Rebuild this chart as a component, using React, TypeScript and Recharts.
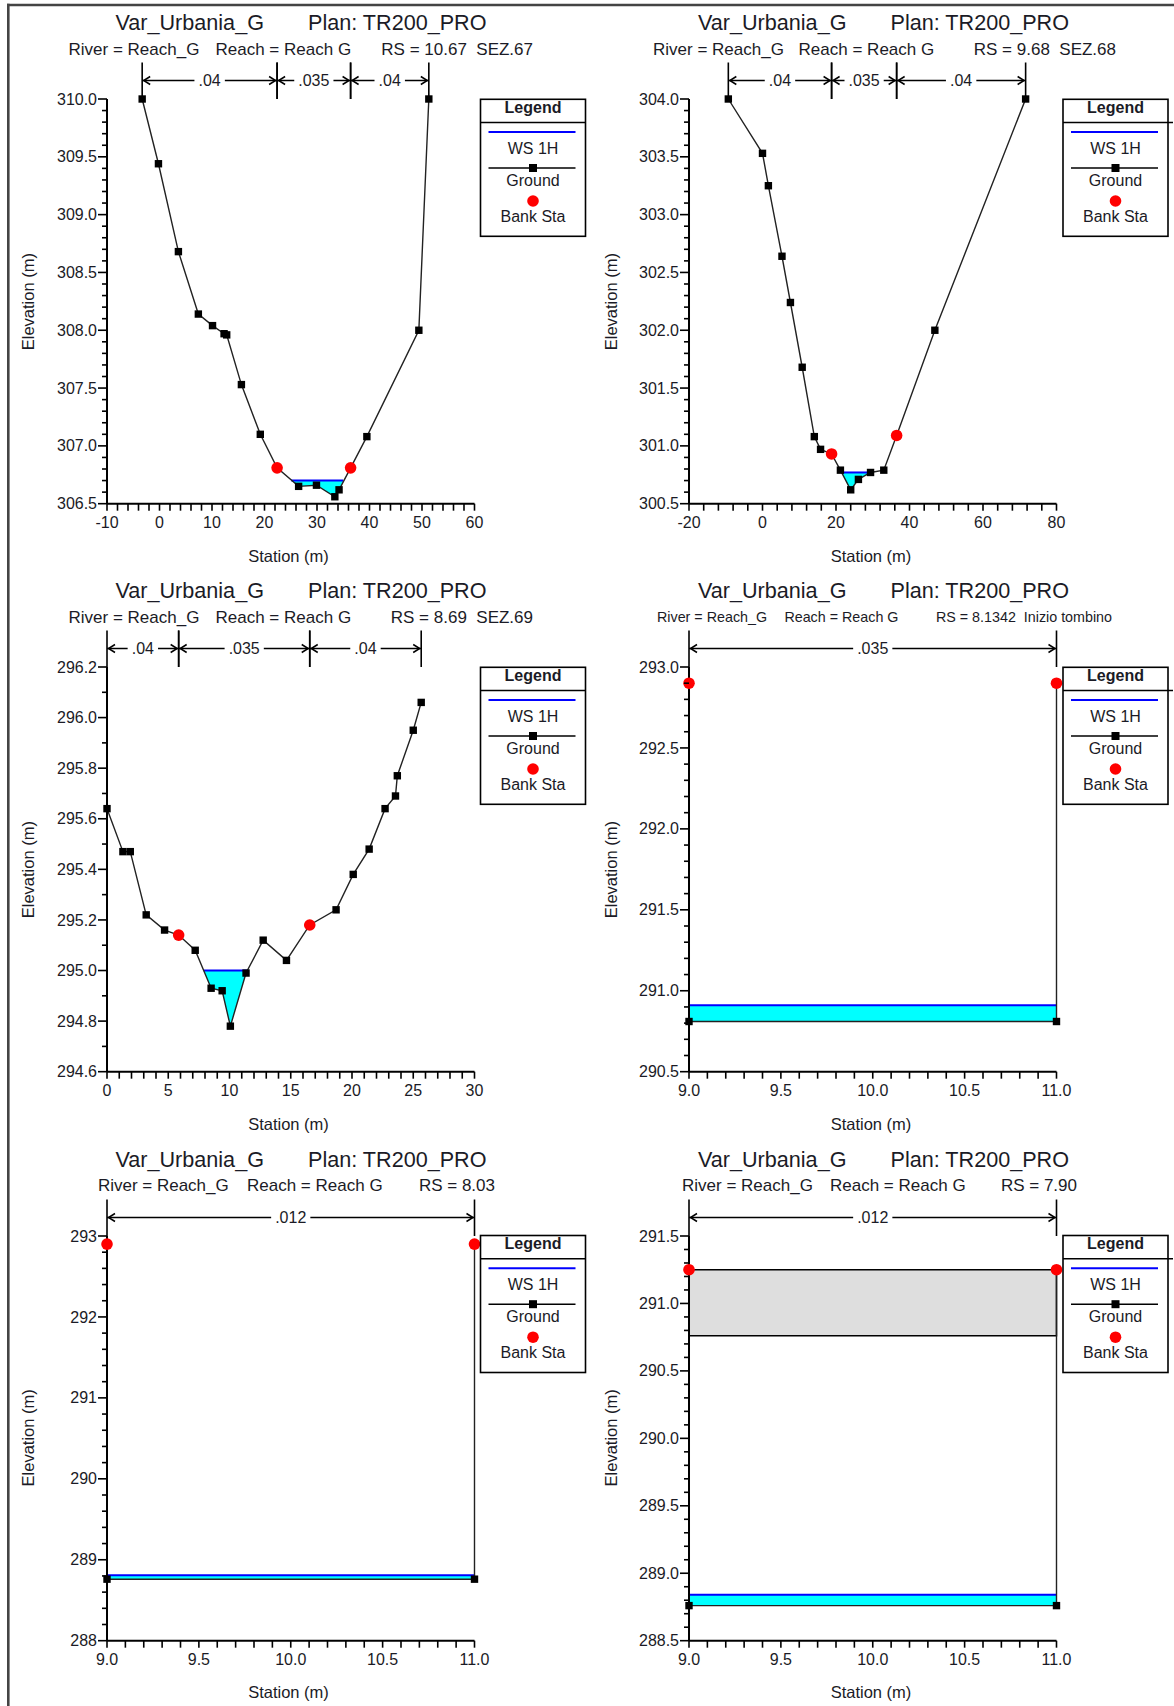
import React from 'react'
import { ComposedChart, Line, Area, XAxis, YAxis, ReferenceLine, ReferenceArea } from 'recharts'

const FONT = '"Liberation Sans", Arial, sans-serif'
const INK = '#1b1b26'

// ---- RS 10.67 SEZ.67 ----
const sez67Sta = [-3.3, -0.2, 3.6, 7.4, 10.1, 12.3, 12.8, 15.6, 19.2, 22.4, 26.5, 29.9, 33.4, 34.2, 36.4, 39.5, 49.4, 51.3]
const sez67Elev = [310.0, 309.44, 308.68, 308.14, 308.04, 307.97, 307.96, 307.53, 307.1, 306.81, 306.65, 306.66, 306.56, 306.62, 306.81, 307.08, 308.0, 310.0]
const sez67BankSta = [22.4, 36.4]
const sez67BankElev = [306.81, 306.81]
const sez67Ws = 306.7
const sez67WaterSta = [25.1, 26.5, 29.9, 33.4, 34.2, 35.0]
const sez67WaterBed = [306.7, 306.65, 306.66, 306.56, 306.62, 306.7]
const sez67NSta = [-3.3, 22.4, 36.4, 51.3]
const sez67NVal = ['.04', '.035', '.04']

// ---- RS 9.68 SEZ.68 ----
const sez68Sta = [-9.3, 0.0, 1.6, 5.3, 7.6, 10.8, 14.1, 15.8, 18.8, 21.2, 24.0, 26.1, 29.4, 33.0, 36.5, 46.9, 71.6]
const sez68Elev = [304.0, 303.53, 303.25, 302.64, 302.24, 301.68, 301.08, 300.97, 300.93, 300.79, 300.62, 300.71, 300.77, 300.79, 301.09, 302.0, 304.0]
const sez68BankSta = [18.8, 36.5]
const sez68BankElev = [300.93, 301.09]
const sez68Ws = 300.77
const sez68WaterSta = [21.5, 24.0, 26.1, 29.4]
const sez68WaterBed = [300.77, 300.62, 300.71, 300.77]
const sez68NSta = [-9.3, 18.8, 36.5, 71.6]
const sez68NVal = ['.04', '.035', '.04']

// ---- RS 8.69 SEZ.69 ----
const sez69Sta = [0, 1.3, 1.9, 3.2, 4.7, 5.85, 7.2, 8.5, 9.4, 10.07, 11.35, 12.75, 14.65, 16.55, 18.7, 20.1, 21.4, 22.7, 23.55, 23.7, 25.0, 25.65]
const sez69Elev = [295.64, 295.47, 295.47, 295.22, 295.16, 295.14, 295.08, 294.93, 294.92, 294.78, 294.99, 295.12, 295.04, 295.18, 295.24, 295.38, 295.48, 295.64, 295.69, 295.77, 295.95, 296.06]
const sez69BankSta = [5.85, 16.55]
const sez69BankElev = [295.14, 295.18]
const sez69Ws = 295.0
const sez69WaterSta = [7.9, 8.5, 9.4, 10.07, 11.35, 11.45]
const sez69WaterBed = [295.0, 294.93, 294.92, 294.78, 294.99, 295.0]
const sez69NSta = [0, 5.85, 16.55, 25.65]
const sez69NVal = ['.04', '.035', '.04']

// ---- RS 8.1342 Inizio tombino ----
const rs8134Sta = [9, 9, 11, 11]
const rs8134Elev = [292.9, 290.81, 290.81, 292.9]
const rs8134BankSta = [9, 11]
const rs8134BankElev = [292.9, 292.9]
const rs8134Ws = 290.91
const rs8134WaterSta = [9, 11]
const rs8134WaterBed = [290.81, 290.81]
const rs8134NSta = [9, 11]
const rs8134NVal = ['.035']

// ---- RS 8.03 ----
const rs803Sta = [9, 9, 11, 11]
const rs803Elev = [292.9, 288.76, 288.76, 292.9]
const rs803BankSta = [9, 11]
const rs803BankElev = [292.9, 292.9]
const rs803Ws = 288.81
const rs803WaterSta = [9, 11]
const rs803WaterBed = [288.76, 288.76]
const rs803NSta = [9, 11]
const rs803NVal = ['.012']

// ---- RS 7.90 ----
const rs790Sta = [9, 9, 11, 11]
const rs790Elev = [291.25, 288.76, 288.76, 291.25]
const rs790BankSta = [9, 11]
const rs790BankElev = [291.25, 291.25]
const rs790Ws = 288.84
const rs790WaterSta = [9, 11]
const rs790WaterBed = [288.76, 288.76]
const rs790Deck = [290.76, 291.25]
const rs790NSta = [9, 11]
const rs790NVal = ['.012']

// tick labels
const xMajor67 = [-10, 0, 10, 20, 30, 40, 50, 60]
const yMajor67 = [306.5, 307.0, 307.5, 308.0, 308.5, 309.0, 309.5, 310.0]
const xMajor68 = [-20, 0, 20, 40, 60, 80]
const yMajor68 = [300.5, 301.0, 301.5, 302.0, 302.5, 303.0, 303.5, 304.0]
const xMajor69 = [0, 5, 10, 15, 20, 25, 30]
const yMajor69 = [294.6, 294.8, 295.0, 295.2, 295.4, 295.6, 295.8, 296.0, 296.2]
const xMajorCulvert = [9.0, 9.5, 10.0, 10.5, 11.0]
const yMajor8134 = [290.5, 291.0, 291.5, 292.0, 292.5, 293.0]
const yMajor803 = [288, 289, 290, 291, 292, 293]
const yMajor790 = [288.5, 289.0, 289.5, 290.0, 290.5, 291.0, 291.5]

// layout
const COL_X = [106.5, 689]
const ROW_Y = [99.3, 667.3, 1235.5]
const PW = 367.5
const PH = 404.7
const Y_W = 60
const X_H = 30
const M = { top: 100, right: 110, bottom: 40, left: 40 }
const CW = M.left + Y_W + PW + M.right
const CH = M.top + PH + X_H + M.bottom

const steps = (lo: number, hi: number, step: number) => {
  const n = Math.round((hi - lo) / step)
  return Array.from({ length: n + 1 }, (_, i) => +(lo + i * step).toFixed(4))
}
const isMajor = (majors: number[], v: number) => majors.some((m) => Math.abs(m - v) < 1e-6)

const sections = [
  { col: 0, row: 0, rs: 'RS = 10.67  SEZ.67', sub: [17, -38, 109, 426.5],
    sta: sez67Sta, elev: sez67Elev, bankSta: sez67BankSta, bankElev: sez67BankElev, ws: sez67Ws,
    waterSta: sez67WaterSta, waterBed: sez67WaterBed, nSta: sez67NSta, nVal: sez67NVal,
    xDom: [-10, 60], xMajor: xMajor67, xMinor: 2, xDig: 0, yDom: [306.5, 310], yMajor: yMajor67, yMinor: 0.1, yDig: 1 },
  { col: 1, row: 0, rs: 'RS = 9.68  SEZ.68', sub: [17, -36, 109.6, 427],
    sta: sez68Sta, elev: sez68Elev, bankSta: sez68BankSta, bankElev: sez68BankElev, ws: sez68Ws,
    waterSta: sez68WaterSta, waterBed: sez68WaterBed, nSta: sez68NSta, nVal: sez68NVal,
    xDom: [-20, 80], xMajor: xMajor68, xMinor: 4, xDig: 0, yDom: [300.5, 304], yMajor: yMajor68, yMinor: 0.1, yDig: 1 },
  { col: 0, row: 1, rs: 'RS = 8.69  SEZ.69', sub: [17, -38, 109, 426.5],
    sta: sez69Sta, elev: sez69Elev, bankSta: sez69BankSta, bankElev: sez69BankElev, ws: sez69Ws,
    waterSta: sez69WaterSta, waterBed: sez69WaterBed, nSta: sez69NSta, nVal: sez69NVal,
    xDom: [0, 30], xMajor: xMajor69, xMinor: 1, xDig: 0, yDom: [294.6, 296.2], yMajor: yMajor69, yMinor: 0.1, yDig: 1 },
  { col: 1, row: 1, rs: 'RS = 8.1342  Inizio tombino', sub: [14.3, -32, 95.4, 423],
    sta: rs8134Sta, elev: rs8134Elev, bankSta: rs8134BankSta, bankElev: rs8134BankElev, ws: rs8134Ws,
    waterSta: rs8134WaterSta, waterBed: rs8134WaterBed, nSta: rs8134NSta, nVal: rs8134NVal,
    xDom: [9, 11], xMajor: xMajorCulvert, xMinor: 0.1, xDig: 1, yDom: [290.5, 293], yMajor: yMajor8134, yMinor: 0.1, yDig: 1 },
  { col: 0, row: 2, rs: 'RS = 8.03', sub: [17, -8.6, 140.5, 388.5],
    sta: rs803Sta, elev: rs803Elev, bankSta: rs803BankSta, bankElev: rs803BankElev, ws: rs803Ws,
    waterSta: rs803WaterSta, waterBed: rs803WaterBed, nSta: rs803NSta, nVal: rs803NVal,
    xDom: [9, 11], xMajor: xMajorCulvert, xMinor: 0.1, xDig: 1, yDom: [288, 293], yMajor: yMajor803, yMinor: 0.2, yDig: 0 },
  { col: 1, row: 2, rs: 'RS = 7.90', sub: [17, -7, 141, 388],
    sta: rs790Sta, elev: rs790Elev, bankSta: rs790BankSta, bankElev: rs790BankElev, ws: rs790Ws,
    waterSta: rs790WaterSta, waterBed: rs790WaterBed, nSta: rs790NSta, nVal: rs790NVal, deck: rs790Deck,
    xDom: [9, 11], xMajor: xMajorCulvert, xMinor: 0.1, xDig: 1, yDom: [288.5, 291.5], yMajor: yMajor790, yMinor: 0.1, yDig: 1 },
]

const makeXTick = (majors: number[], digits: number) => (props: any) => {
  const { x, y, payload, index } = props
  const v = payload.value
  const major = isMajor(majors, v)
  return (
    <g key={`xt${index}`}>
      <line x1={x} x2={x} y1={y} y2={y + 7} stroke="#000" strokeWidth={1.6} />
      {major && (
        <text x={x} y={y + 19} dy="0.35em" textAnchor="middle" fontFamily={FONT} fontSize={16} fill={INK}>
          {v.toFixed(digits)}
        </text>
      )}
    </g>
  )
}

const makeYTick = (majors: number[], digits: number) => (props: any) => {
  const { x, y, payload, index } = props
  const v = payload.value
  const major = isMajor(majors, v)
  return (
    <g key={`yt${index}`}>
      <line x1={x - (major ? 9 : 5)} x2={x} y1={y} y2={y} stroke="#000" strokeWidth={1.6} />
      {major && (
        <text x={x - 10} y={y} dy="0.35em" textAnchor="end" fontFamily={FONT} fontSize={16} fill={INK}>
          {v.toFixed(digits)}
        </text>
      )}
    </g>
  )
}

// manning's n bracket drawn above the plot between two stations
const Bracket = ({ x1, y1, x2, text }: any) => {
  const yA = y1 - 18.5
  const yTop = y1 - 36.5
  const mid = (x1 + x2) / 2
  const tw = text.length * 8.8 + 4
  return (
    <g>
      <line x1={x1} x2={x1} y1={yTop} y2={y1} stroke="#000" strokeWidth={1.6} />
      <line x1={x2} x2={x2} y1={yTop} y2={y1} stroke="#000" strokeWidth={1.6} />
      <line x1={x1} x2={x2} y1={yA} y2={yA} stroke="#000" strokeWidth={1.4} />
      <polyline points={`${x1 + 8},${yA - 4} ${x1 + 1.5},${yA} ${x1 + 8},${yA + 4}`} fill="none" stroke="#000" strokeWidth={1.5} />
      <polyline points={`${x2 - 8},${yA - 4} ${x2 - 1.5},${yA} ${x2 - 8},${yA + 4}`} fill="none" stroke="#000" strokeWidth={1.5} />
      <rect x={mid - tw / 2} y={yA - 8} width={tw} height={16} fill="#fff" />
      <text x={mid} y={yA} dy="0.35em" textAnchor="middle" fontFamily={FONT} fontSize={16} fill={INK}>
        {text}
      </text>
    </g>
  )
}

const renderSquare = (p: any) => (
  <rect key={`sq${p.index}`} x={p.cx - 3.7} y={p.cy - 3.7} width={7.4} height={7.4} fill="#000" />
)
const renderBank = (p: any) => <circle key={`bk${p.index}`} cx={p.cx} cy={p.cy} r={5.8} fill="#ff0000" />

const SectionChart = ({ s }: { s: any }) => {
  const PL = COL_X[s.col]
  const PT = ROW_Y[s.row]
  const ground = s.sta.map((x: number, i: number) => ({ x, y: s.elev[i] }))
  const banks = s.bankSta.map((x: number, i: number) => ({ x, y: s.bankElev[i] }))
  const water = s.waterSta.map((x: number, i: number) => ({ x, r: [s.waterBed[i], s.ws] }))
  const wsLine = [
    { x: s.waterSta[0], y: s.ws },
    { x: s.waterSta[s.waterSta.length - 1], y: s.ws },
  ]
  return (
    <div style={{ position: 'absolute', left: PL - M.left - Y_W, top: PT - M.top }}>
      <ComposedChart width={CW} height={CH} margin={M}>
        <XAxis
          type="number"
          dataKey="x"
          domain={s.xDom}
          ticks={steps(s.xDom[0], s.xDom[1], s.xMinor)}
          interval={0}
          height={X_H}
          tickSize={0}
          tickMargin={0}
          tickLine={false}
          axisLine={{ stroke: '#000', strokeWidth: 2 }}
          tick={makeXTick(s.xMajor, s.xDig)}
        />
        <YAxis
          type="number"
          domain={s.yDom}
          ticks={steps(s.yDom[0], s.yDom[1], s.yMinor)}
          interval={0}
          width={Y_W}
          tickSize={0}
          tickMargin={0}
          tickLine={false}
          axisLine={{ stroke: '#000', strokeWidth: 2 }}
          tick={makeYTick(s.yMajor, s.yDig)}
        />
        {s.deck && (
          <ReferenceArea
            x1={s.xDom[0]}
            x2={s.xDom[1]}
            y1={s.deck[0]}
            y2={s.deck[1]}
            fill="#dedede"
            fillOpacity={1}
            stroke="#000"
            strokeWidth={1.5}
            ifOverflow="visible"
          />
        )}
        <Area data={water} dataKey="r" type="linear" stroke="none" fill="#00ffff" fillOpacity={1} dot={false} activeDot={false} isAnimationActive={false} />
        <Line data={wsLine} dataKey="y" type="linear" stroke="#0000ff" strokeWidth={2} dot={false} activeDot={false} isAnimationActive={false} />
        <Line data={ground} dataKey="y" type="linear" stroke="#222" strokeWidth={1.4} dot={renderSquare} activeDot={false} isAnimationActive={false} />
        <Line data={banks} dataKey="y" type="linear" stroke="none" dot={renderBank} activeDot={false} isAnimationActive={false} />
        {s.nVal.map((v: string, i: number) => (
          <ReferenceLine
            key={`n${i}`}
            segment={[
              { x: s.nSta[i], y: s.yDom[1] },
              { x: s.nSta[i + 1], y: s.yDom[1] },
            ]}
            ifOverflow="visible"
            shape={(p: any) => <Bracket {...p} text={v} />}
          />
        ))}
      </ComposedChart>
    </div>
  )
}

const Legend = ({ x, y, wide }: { x: number; y: number; wide: boolean }) => {
  const w = 105
  const cx = x + w / 2
  const txt = { fontFamily: FONT, fontSize: 16, fill: INK, textAnchor: 'middle' as const }
  return (
    <g>
      <rect x={x} y={y} width={w} height={137} fill="#fff" stroke="#000" strokeWidth={1.6} />
      <text x={cx} y={y + 13.5} {...txt} fontWeight="bold">Legend</text>
      <line x1={x} x2={x + w + (wide ? 5 : 0)} y1={y + 23.3} y2={y + 23.3} stroke="#000" strokeWidth={1.5} />
      <line x1={x + 8} x2={x + w - 10} y1={y + 32.7} y2={y + 32.7} stroke="#0000ff" strokeWidth={2} />
      <text x={cx} y={y + 54.5} {...txt}>WS 1H</text>
      <line x1={x + 8} x2={x + w - 10} y1={y + 68.7} y2={y + 68.7} stroke="#000" strokeWidth={1.5} />
      <rect x={cx - 4} y={y + 64.7} width={8} height={8} fill="#000" />
      <text x={cx} y={y + 86.5} {...txt}>Ground</text>
      <circle cx={cx} cy={y + 101.7} r={5.8} fill="#ff0000" />
      <text x={cx} y={y + 122.5} {...txt}>Bank Sta</text>
    </g>
  )
}

export default function App() {
  return (
    <div style={{ position: 'relative', width: 1174, height: 1706, overflow: 'hidden', background: '#fff' }}>
      <style>{'html,body{margin:0;padding:0;background:#fff;overflow:hidden;}'}</style>
      {sections.map((s, i) => (
        <SectionChart key={i} s={s} />
      ))}
      <svg width={1174} height={1706} style={{ position: 'absolute', left: 0, top: 0, pointerEvents: 'none' }}>
        <line x1={8.3} x2={8.3} y1={3.8} y2={1706} stroke="#444" strokeWidth={2.6} />
        <line x1={7} x2={1174} y1={5} y2={5} stroke="#444" strokeWidth={2.6} />
        {sections.map((s, i) => {
          const PL = COL_X[s.col]
          const PT = ROW_Y[s.row]
          const [subSize, rivX, reachX, rsX] = s.sub
          const t = { fontFamily: FONT, fill: INK }
          return (
            <g key={`ov${i}`}>
              <text x={PL + 9} y={PT - 76.5} dy="0.35em" fontSize={21.6} {...t}>Var_Urbania_G</text>
              <text x={PL + 380} y={PT - 76.5} dy="0.35em" fontSize={21.6} textAnchor="end" {...t}>Plan: TR200_PRO</text>
              <text x={PL + rivX} y={PT - 50} dy="0.35em" fontSize={subSize} {...t}>River = Reach_G</text>
              <text x={PL + reachX} y={PT - 50} dy="0.35em" fontSize={subSize} {...t}>Reach = Reach G</text>
              <text x={PL + rsX} y={PT - 50} dy="0.35em" fontSize={subSize} textAnchor="end" style={{ whiteSpace: 'pre' }} {...t}>{s.rs}</text>
              <text
                x={PL - 78}
                y={PT + PH / 2}
                dy="0.35em"
                fontSize={16.5}
                textAnchor="middle"
                transform={`rotate(-90, ${PL - 78}, ${PT + PH / 2})`}
                {...t}
              >
                Elevation (m)
              </text>
              <text x={PL + 182} y={PT + PH + 52} dy="0.35em" fontSize={16.5} textAnchor="middle" {...t}>Station (m)</text>
              <Legend x={PL + 374} y={PT} wide={s.col === 1} />
            </g>
          )
        })}
      </svg>
    </div>
  )
}
